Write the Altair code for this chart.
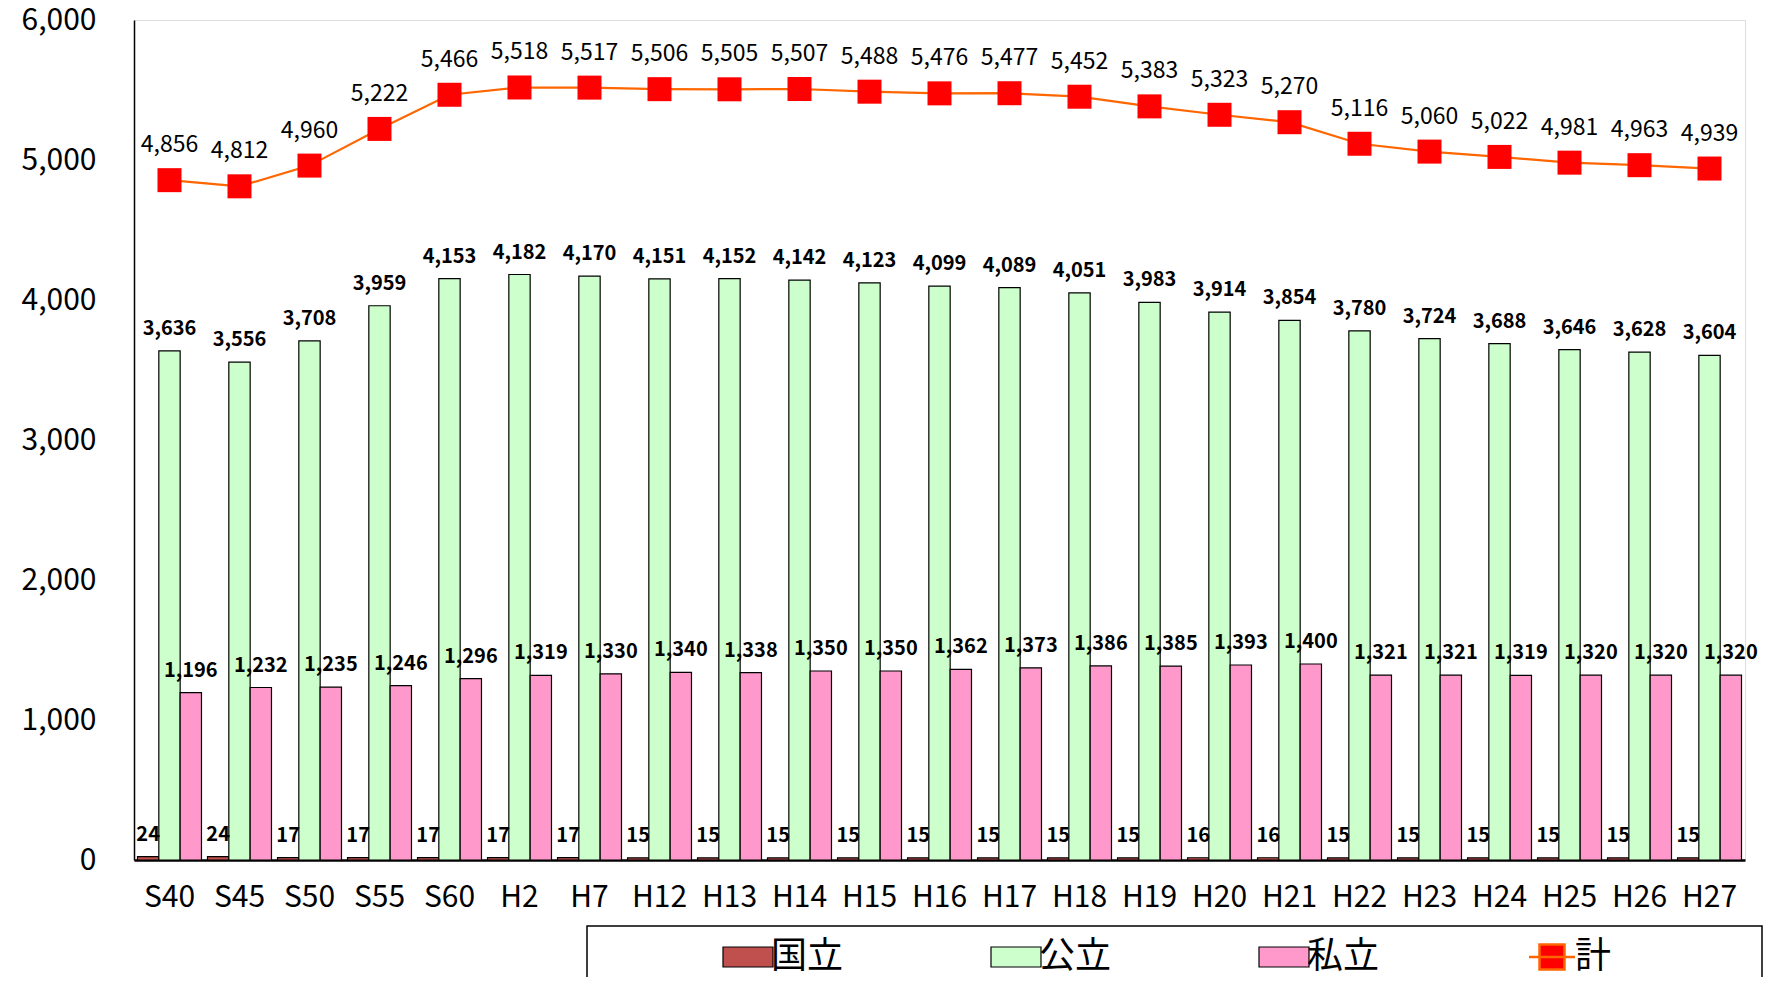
import altair as alt
import pandas as pd

FONT = "Noto Sans CJK JP"

categories = ["S40", "S45", "S50", "S55", "S60", "H2", "H7", "H12", "H13", "H14", "H15",
              "H16", "H17", "H18", "H19", "H20", "H21", "H22", "H23", "H24", "H25", "H26", "H27"]
national = [24, 24, 17, 17, 17, 17, 17, 15, 15, 15, 15, 15, 15, 15, 15, 16, 16, 15, 15, 15, 15, 15, 15]
public = [3636, 3556, 3708, 3959, 4153, 4182, 4170, 4151, 4152, 4142, 4123, 4099, 4089, 4051,
          3983, 3914, 3854, 3780, 3724, 3688, 3646, 3628, 3604]
private = [1196, 1232, 1235, 1246, 1296, 1319, 1330, 1340, 1338, 1350, 1350, 1362, 1373, 1386,
           1385, 1393, 1400, 1321, 1321, 1319, 1320, 1320, 1320]
total = [4856, 4812, 4960, 5222, 5466, 5518, 5517, 5506, 5505, 5507, 5488, 5476, 5477, 5452,
         5383, 5323, 5270, 5116, 5060, 5022, 4981, 4963, 4939]

series_names = ["国立", "公立", "私立", "計"]
series_colors = ["#C0504D", "#CCFFCC", "#FF99CC", "#FF0000"]
line_color = "#FF6600"
y_ticks = [0, 1000, 2000, 3000, 4000, 5000, 6000]

rows = []
for i, c in enumerate(categories):
    for name, vals in zip(series_names[:3], [national, public, private]):
        rows.append({"年": c, "系列": name, "値": vals[i]})
bars_df = pd.DataFrame(rows)
total_df = pd.DataFrame({"年": categories, "系列": ["計"] * len(categories), "値": total})

x_enc = alt.X(
    "年:N",
    scale=alt.Scale(domain=categories, paddingInner=0.086, paddingOuter=0.05),
    axis=alt.Axis(title=None, labelAngle=0, labelFontSize=30, labelFont=FONT, labelColor="black",
                  labelPadding=22, ticks=False, domainColor="black", domainWidth=2.5),
)
y_enc = alt.Y(
    "値:Q",
    scale=alt.Scale(domain=[0, 6000], nice=False),
    axis=alt.Axis(title=None, values=y_ticks, format=",d", grid=False, ticks=False,
                  labelFontSize=30, labelFont=FONT, labelColor="black", labelPadding=38,
                  domainColor="black", domainWidth=1.5),
)
xo_enc = alt.XOffset("系列:N", scale=alt.Scale(domain=series_names[:3], paddingInner=0, paddingOuter=0))

bars = alt.Chart(bars_df).mark_bar(stroke="black", strokeWidth=1.2).encode(
    x=x_enc, xOffset=xo_enc, y=y_enc,
    fill=alt.Fill("系列:N", scale=alt.Scale(domain=series_names[:3], range=series_colors[:3]), legend=None),
)

bar_text = alt.Chart(bars_df).mark_text(
    baseline="alphabetic", dy=-16, fontSize=20, fontWeight="bold", font=FONT, color="black"
).encode(x=x_enc, xOffset=xo_enc, y=y_enc, text=alt.Text("値:Q", format=","))

line = alt.Chart(total_df).mark_line(color=line_color, strokeWidth=2.2).encode(x=x_enc, y=y_enc)

legend = alt.Legend(
    title=None, orient="none", legendX=596, legendY=919, direction="horizontal", columns=4,
    columnPadding=144, labelFont=FONT, labelFontSize=36, labelColor="black", labelOffset=5,
    symbolSize=2500, padding=0,
    symbolType=alt.ExprRef(expr="datum.value === '計' ? 'M-0.92,0L0.92,0M-0.5,-0.5L0.5,-0.5L0.5,0.5L-0.5,0.5Z' : 'M-1,-0.4L1,-0.4L1,0.4L-1,0.4Z'"),
    symbolStrokeColor=alt.ExprRef(expr="datum.value === '計' ? '#FF6600' : 'black'"),
    symbolStrokeWidth=alt.ExprRef(expr="datum.value === '計' ? 2.5 : 1.2"),
)

points = alt.Chart(total_df).mark_point(shape="square", filled=True, size=576, opacity=1).encode(
    x=x_enc, y=y_enc,
    color=alt.Color("系列:N", scale=alt.Scale(domain=series_names, range=series_colors), legend=legend),
)

total_text = alt.Chart(total_df).mark_text(
    baseline="alphabetic", dy=-28, fontSize=23, font=FONT, color="black"
).encode(x=x_enc, y=y_enc, text=alt.Text("値:Q", format=","))

frame = alt.Chart(alt.Data(values=[{"k": 1}])).mark_rect(
    fill="transparent", stroke="black", strokeWidth=1.5
).encode(x=alt.value(453), x2=alt.value(1628), y=alt.value(906), y2=alt.value(1000))

chart = alt.layer(bars, bar_text, line, points, total_text, frame).properties(
    width=1611, height=840,
    autosize=alt.AutoSizeParams(type="none"),
    padding={"left": 126, "top": 12, "right": 23, "bottom": 117},
).configure_view(stroke="black", strokeWidth=1.5).configure(font=FONT)

chart.save("out.html", embed_options={"renderer": "svg", "actions": False})
